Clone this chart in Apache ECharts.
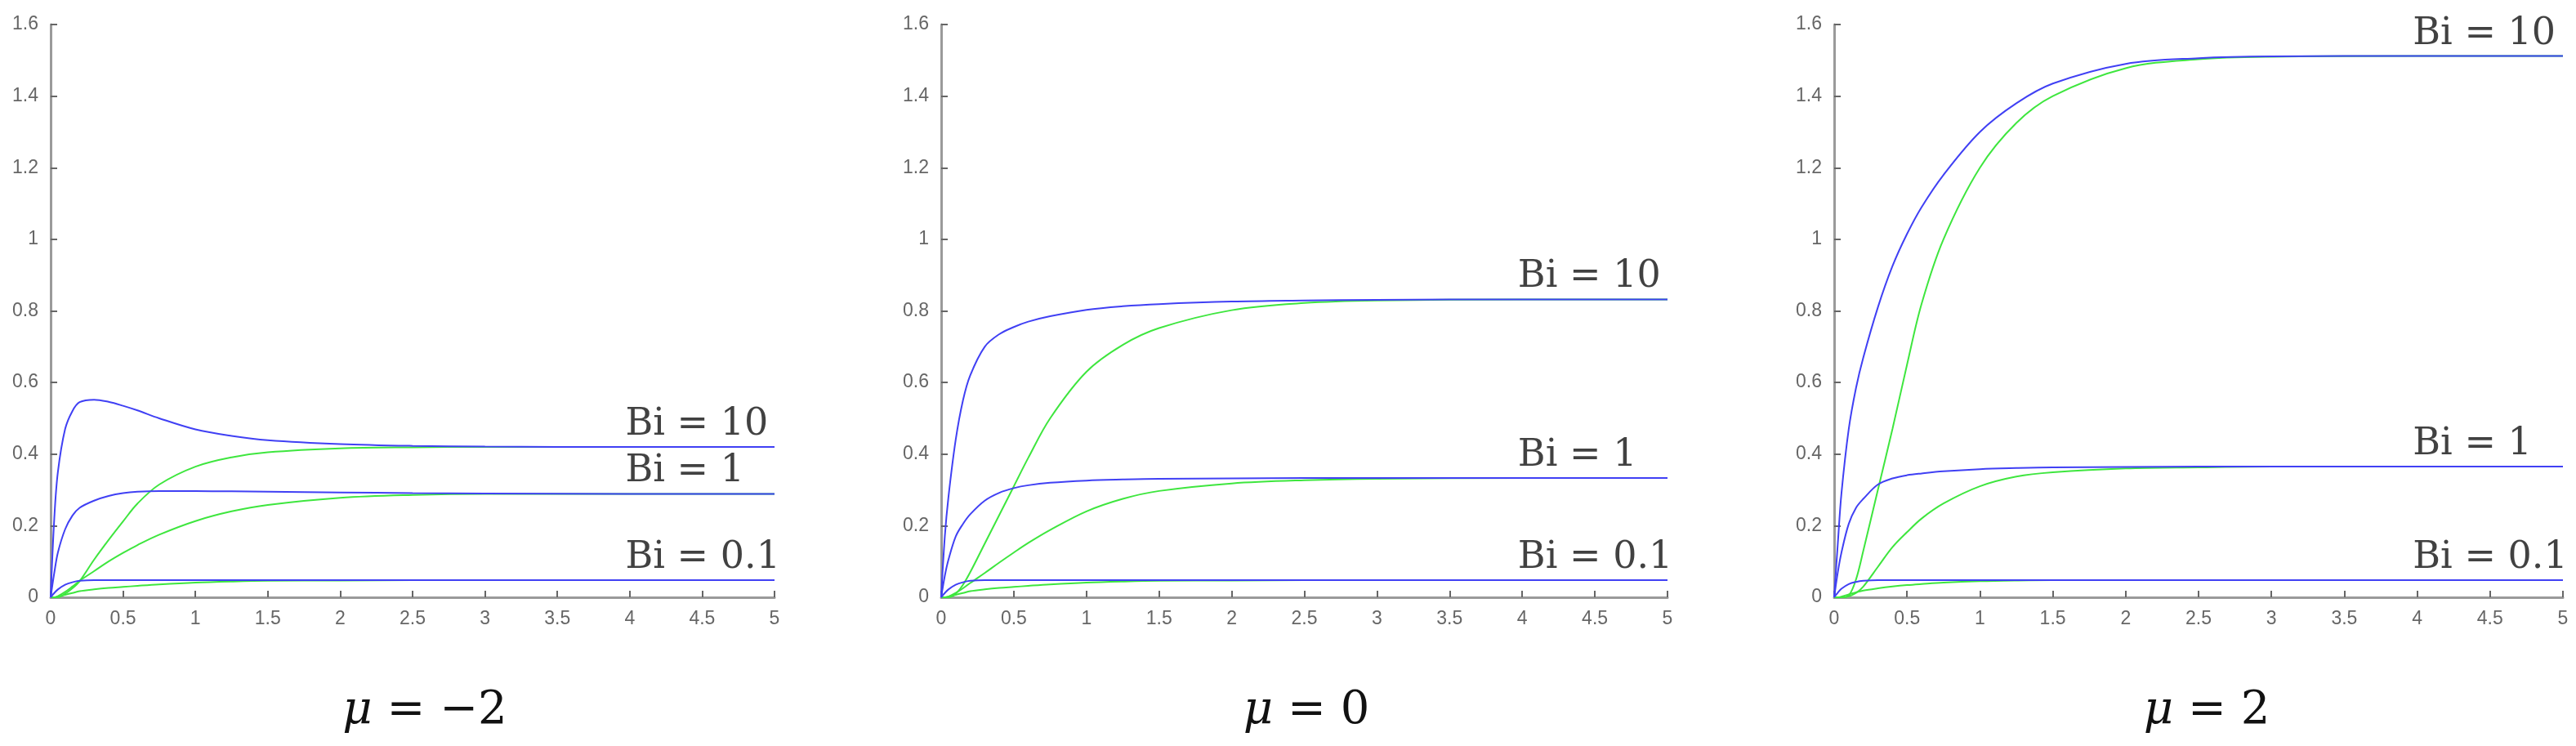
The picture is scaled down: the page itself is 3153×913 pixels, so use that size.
<!DOCTYPE html>
<html>
<head>
<meta charset="utf-8">
<script src="https://cdn.jsdelivr.net/npm/echarts@6/dist/echarts.min.js"></script>
<style>
html,body{margin:0;padding:0;background:#fff;}
#c{width:3153px;height:913px;}
</style>
</head>
<body>
<div id="c"></div>
<script>
// time samples (x axis)
const xs = [0, 0.025, 0.05, 0.1, 0.15, 0.2, 0.3, 0.4, 0.5, 0.6, 0.75, 1, 1.25, 1.5, 2, 2.5, 3, 4, 5];

// tick labels / titles
const xTicks = [0, 0.5, 1, 1.5, 2, 2.5, 3, 3.5, 4, 4.5, 5];
const yTicks = [0, 0.2, 0.4, 0.6, 0.8, 1, 1.2, 1.4, 1.6];
const muValues = ['−2', '0', '2'];
const biNames = ['Bi = 10', 'Bi = 1', 'Bi = 0.1'];

// mu = -2
const m2_blue10  = [0, 0.22, 0.35, 0.47, 0.52, 0.545, 0.552, 0.546, 0.535, 0.522, 0.5, 0.469, 0.451, 0.439, 0.428, 0.423, 0.421, 0.42, 0.42];
const m2_green10 = [0, 0, 0, 0.01, 0.025, 0.045, 0.105, 0.16, 0.212, 0.262, 0.315, 0.365, 0.391, 0.405, 0.416, 0.419, 0.42, 0.42, 0.42];
const m2_blue1   = [0, 0.068, 0.125, 0.19, 0.228, 0.25, 0.27, 0.283, 0.291, 0.295, 0.297, 0.297, 0.296, 0.295, 0.293, 0.291, 0.29, 0.289, 0.289];
const m2_green1  = [0, 0, 0.003, 0.015, 0.03, 0.046, 0.073, 0.1, 0.124, 0.146, 0.175, 0.213, 0.24, 0.258, 0.278, 0.286, 0.289, 0.289, 0.289];
const m2_blue01  = [0, 0.012, 0.022, 0.035, 0.042, 0.046, 0.048, 0.048, 0.048, 0.048, 0.048, 0.048, 0.048, 0.048, 0.048, 0.048, 0.048, 0.048, 0.048];
const m2_green01 = [0, 0, 0.002, 0.007, 0.012, 0.017, 0.022, 0.026, 0.029, 0.032, 0.036, 0.041, 0.044, 0.046, 0.047, 0.048, 0.048, 0.048, 0.048];

// mu = 0
const m0_blue10  = [0, 0.17, 0.28, 0.44, 0.55, 0.62, 0.70, 0.735, 0.755, 0.77, 0.785, 0.803, 0.813, 0.819, 0.826, 0.829, 0.831, 0.832, 0.832];
const m0_green10 = [0, 0, 0, 0.01, 0.035, 0.07, 0.15, 0.23, 0.31, 0.39, 0.5, 0.63, 0.705, 0.752, 0.802, 0.822, 0.829, 0.832, 0.832];
const m0_blue1   = [0, 0.06, 0.105, 0.17, 0.205, 0.232, 0.27, 0.292, 0.305, 0.313, 0.32, 0.326, 0.329, 0.331, 0.332, 0.333, 0.333, 0.333, 0.333];
const m0_green1  = [0, 0, 0.002, 0.012, 0.025, 0.04, 0.068, 0.097, 0.125, 0.152, 0.188, 0.24, 0.275, 0.297, 0.318, 0.327, 0.331, 0.333, 0.333];
const m0_blue01  = [0, 0.012, 0.022, 0.035, 0.042, 0.046, 0.048, 0.048, 0.048, 0.048, 0.048, 0.048, 0.048, 0.048, 0.048, 0.048, 0.048, 0.048, 0.048];
const m0_green01 = [0, 0, 0.002, 0.007, 0.012, 0.017, 0.022, 0.026, 0.029, 0.032, 0.036, 0.041, 0.044, 0.046, 0.047, 0.048, 0.048, 0.048, 0.048];

// mu = 2
const p2_blue10  = [0, 0.15, 0.29, 0.47, 0.585, 0.67, 0.81, 0.925, 1.015, 1.09, 1.18, 1.30, 1.38, 1.435, 1.49, 1.506, 1.511, 1.512, 1.512];
const p2_green10 = [0, 0, 0, 0.005, 0.05, 0.13, 0.30, 0.47, 0.65, 0.82, 1.0, 1.2, 1.325, 1.4, 1.478, 1.503, 1.51, 1.512, 1.512];
const p2_blue1   = [0, 0.07, 0.125, 0.205, 0.25, 0.275, 0.315, 0.332, 0.341, 0.346, 0.352, 0.358, 0.361, 0.363, 0.364, 0.365, 0.365, 0.365, 0.365];
const p2_green1  = [0, 0, 0, 0.003, 0.012, 0.03, 0.085, 0.14, 0.182, 0.22, 0.262, 0.31, 0.337, 0.349, 0.36, 0.363, 0.365, 0.365, 0.365];
const p2_blue01  = [0, 0.013, 0.024, 0.037, 0.043, 0.046, 0.048, 0.048, 0.048, 0.048, 0.048, 0.048, 0.048, 0.048, 0.048, 0.048, 0.048, 0.048, 0.048];
const p2_green01 = [0, 0, 0.002, 0.008, 0.014, 0.019, 0.025, 0.03, 0.034, 0.037, 0.041, 0.045, 0.047, 0.048, 0.048, 0.048, 0.048, 0.048, 0.048];

const panels = [
  {blue: [m2_blue10, m2_blue1, m2_blue01], green: [m2_green10, m2_green1, m2_green01]},
  {blue: [m0_blue10, m0_blue1, m0_blue01], green: [m0_green10, m0_green1, m0_green01]},
  {blue: [p2_blue10, p2_blue1, p2_blue01], green: [p2_green10, p2_green1, p2_green01]}
];

// layout (pixels)
const grids = [
  {left: 62, top: 30, width: 886, height: 701},
  {left: 1152, top: 30, width: 889, height: 701},
  {left: 2245, top: 30, width: 892, height: 701}
];
const titleX = [520, 1599, 2701];
const labelAnchorX = 3.97;

const BLUE = '#4040f4';
const GREEN = '#3ee63e';

const option = {
  animation: false,
  backgroundColor: '#ffffff',
  grid: grids.map(g => Object.assign({containLabel: false}, g)),
  xAxis: grids.map((g, i) => ({
    gridIndex: i, type: 'value', min: xTicks[0], max: xTicks[xTicks.length - 1], interval: 0.5,
    axisLine: {show: true, lineStyle: {color: '#9a9a9a', width: 3}},
    axisTick: {show: true, inside: true, length: 8, lineStyle: {color: '#666', width: 2}},
    axisLabel: {color: '#666', fontSize: 23, margin: 15, fontFamily: 'Liberation Sans',
      formatter: v => String(v)},
    splitLine: {show: false}
  })),
  yAxis: grids.map((g, i) => ({
    gridIndex: i, type: 'value', min: yTicks[0], max: yTicks[yTicks.length - 1], interval: 0.2,
    axisLine: {show: true, lineStyle: {color: '#9a9a9a', width: 3}},
    axisTick: {show: true, inside: true, length: 8, lineStyle: {color: '#666', width: 2}},
    axisLabel: {color: '#666', fontSize: 23, margin: 15, fontFamily: 'Liberation Sans',
      formatter: v => String(Math.round(v * 10) / 10)},
    splitLine: {show: false}
  })),
  series: [],
  graphic: []
};

panels.forEach((p, i) => {
  p.green.forEach(arr => {
    option.series.push({
      type: 'line', xAxisIndex: i, yAxisIndex: i, showSymbol: false, smooth: 0.35,
      data: xs.map((x, k) => [x, arr[k]]),
      lineStyle: {color: GREEN, width: 2}, z: 2
    });
  });
  p.blue.forEach(arr => {
    option.series.push({
      type: 'line', xAxisIndex: i, yAxisIndex: i, showSymbol: false, smooth: 0.35,
      data: xs.map((x, k) => [x, arr[k]]),
      lineStyle: {color: BLUE, width: 2}, z: 3
    });
  });
  // Bi labels at the plateau of each blue curve
  option.series.push({
    type: 'scatter', xAxisIndex: i, yAxisIndex: i, symbolSize: 0, silent: true,
    itemStyle: {color: 'transparent'}, z: 5,
    data: p.blue.map((arr, k) => ({value: [labelAnchorX, arr[arr.length - 1]], name: biNames[k]})),
    label: {
      show: true, position: [0, 0], align: 'left', verticalAlign: 'bottom', offset: [0, -4],
      formatter: d => d.name,
      fontFamily: 'DejaVu Serif', fontSize: 46, color: '#111'
    }
  });
  option.graphic.push({
    type: 'text', x: titleX[i], y: 870,
    style: {
      text: '{i|μ} = ' + muValues[i],
      rich: {i: {fontStyle: 'italic', fontFamily: 'DejaVu Serif', fontSize: 56, fill: '#111'}},
      fontFamily: 'DejaVu Serif', fontSize: 56, fill: '#111',
      align: 'center', verticalAlign: 'middle'
    }
  });
});

const chart = echarts.init(document.getElementById('c'), null, {renderer: 'canvas'});
chart.setOption(option);
</script>
</body>
</html>
